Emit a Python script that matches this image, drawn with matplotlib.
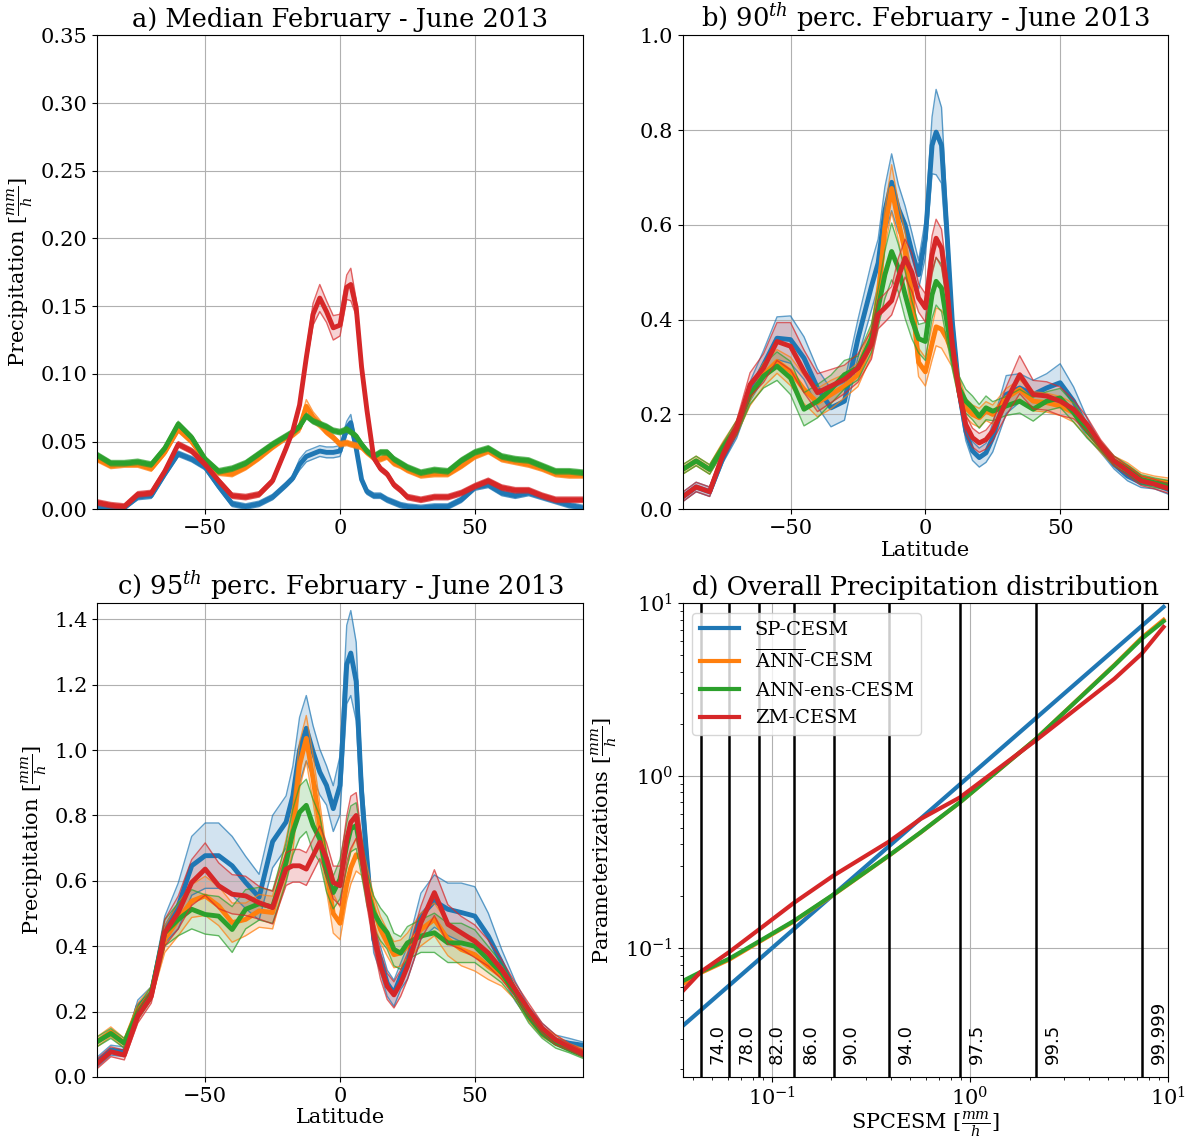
import matplotlib
matplotlib.use("Agg")
import matplotlib.pyplot as plt
import numpy as np

plt.rcParams["font.family"] = "DejaVu Serif"
plt.rcParams["mathtext.fontset"] = "dejavuserif"

# %% Data
lat = [-90, -85, -80, -75, -70, -65, -60, -55, -50, -45, -40, -35, -30, -25,
       -20, -17.5, -15, -12.5, -10, -7.5, -5, -2.5, 0, 2.5, 4, 6, 8, 10,
       12.5, 15, 17.5, 20, 22.5, 25, 30, 35, 40, 45, 50, 55, 60, 65, 70, 75,
       80, 85, 90]

models = ["SP-CESM", r"$\overline{\mathrm{ANN}}$-CESM", r"$\mathrm{ANN}$-ens-CESM", "ZM-CESM"]
colors = ["tab:blue", "tab:orange", "tab:green", "tab:red"]

# median precipitation [mm/h]
med_sp = [.002, .001, .001, .009, .010, .026, .041, .037, .031, .017, .004, .002, .004, .009,
          .018, .023, .033, .039, .041, .043, .042, .042, .043, .060, .064, .045, .022, .013,
          .010, .010, .007, .005, .003, .002, .001, .002, .002, .007, .016, .018, .012, .010,
          .012, .009, .006, .003, .001]
med_ann = [.037, .032, .033, .033, .030, .042, .059, .050, .036, .027, .026, .031, .038, .046,
           .053, .055, .060, .076, .068, .063, .057, .053, .048, .049, .048, .047, .046, .042,
           .038, .037, .039, .034, .032, .029, .025, .026, .026, .032, .039, .043, .037, .035,
           .033, .030, .026, .025, .025]
med_ens = [.040, .034, .034, .035, .033, .045, .063, .053, .037, .028, .030, .034, .041, .048,
           .054, .057, .061, .069, .065, .063, .061, .058, .057, .059, .057, .054, .048, .043,
           .039, .042, .042, .037, .034, .031, .027, .029, .028, .036, .042, .045, .039, .037,
           .036, .032, .028, .028, .027]
med_zm = [.005, .003, .002, .011, .012, .028, .048, .043, .033, .021, .010, .009, .011, .021,
          .045, .058, .077, .112, .144, .156, .146, .134, .136, .164, .166, .149, .105, .073,
          .038, .030, .026, .018, .014, .009, .007, .009, .009, .012, .017, .021, .016, .014,
          .014, .010, .007, .007, .007]
sprd_med_sp = [.002] * 16 + [.004, .004, .004, .004, .004, .004, .004, .005, .006, .004] + [.002] * 21
sprd_med_ann = [.002] * 16 + [.003, .005, .004, .003] + [.002] * 27
sprd_med_ens = [.002] * 47
sprd_med_zm = [.002] * 16 + [.003, .005, .008, .010, .008, .009, .008, .009, .012, .006, .004] + [.002] * 20

# 90th percentile [mm/h]
p90_sp = [.026, .047, .037, .109, .165, .249, .305, .361, .358, .319, .256, .214, .228, .360,
          .470, .520, .630, .690, .635, .600, .544, .495, .572, .768, .796, .768, .586, .396,
          .249, .165, .123, .109, .119, .151, .242, .256, .242, .256, .267, .228, .172, .130,
          .095, .070, .056, .053, .042]
p90_ann = [.084, .102, .084, .133, .172, .239, .284, .312, .291, .253, .225, .242, .260, .284,
           .354, .446, .593, .677, .607, .544, .450, .310, .290, .350, .385, .380, .360, .330,
           .256, .214, .200, .193, .207, .200, .235, .253, .228, .225, .218, .204, .168, .130,
           .102, .088, .067, .060, .056]
p90_ens = [.084, .102, .084, .130, .172, .242, .281, .302, .277, .211, .228, .253, .284, .298,
           .361, .425, .495, .544, .509, .453, .400, .360, .354, .453, .481, .467, .396, .326,
           .256, .228, .214, .196, .214, .207, .218, .228, .211, .228, .235, .204, .165, .133,
           .102, .084, .063, .056, .051]
p90_zm = [.026, .047, .037, .116, .172, .263, .298, .354, .344, .291, .246, .260, .274, .298,
          .347, .411, .425, .440, .490, .530, .500, .446, .425, .537, .572, .551, .467, .347,
          .249, .179, .151, .140, .147, .165, .228, .284, .242, .239, .228, .211, .179, .137,
          .102, .081, .060, .053, .044]
sprd_p90_sp = [.01, .01, .01, .01, .015, .02, .03, .045, .05, .045, .04, .04, .04, .04,
               .05, .05, .05, .06, .05, .04, .04, .03, .04, .06, .09, .08, .05, .03,
               .02, .02, .02, .02, .02, .03, .04, .03, .03, .03, .04, .03, .02, .01,
               .01, .01, .01, .01, .01]
sprd_p90_ann = [.01, .01, .01, .01, .015, .02, .025, .025, .03, .03, .03, .03, .025, .025,
                .03, .04, .04, .05, .04, .04, .04, .03, .03, .035, .04, .04, .04, .03,
                .025, .02, .02, .02, .02, .02, .02, .02, .02, .02, .02, .02, .015, .01,
                .01, .01, .01, .01, .01]
sprd_p90_ens = [.01, .01, .01, .01, .015, .02, .025, .03, .035, .035, .035, .03, .03, .025,
                .03, .04, .05, .06, .05, .05, .04, .03, .04, .05, .05, .05, .04, .03,
                .025, .025, .025, .025, .025, .02, .02, .025, .025, .02, .02, .02, .015, .01,
                .01, .01, .01, .01, .01]
sprd_p90_zm = [.01, .01, .01, .01, .015, .025, .03, .04, .05, .045, .04, .035, .03, .03,
               .03, .03, .03, .03, .04, .04, .04, .03, .03, .04, .04, .04, .03, .03,
               .02, .02, .02, .02, .02, .02, .03, .04, .03, .03, .03, .02, .015, .01,
               .01, .01, .01, .01, .01]

# 95th percentile [mm/h]
p95_sp = [.046, .082, .077, .215, .256, .451, .523, .646, .677, .677, .646, .595, .550, .720,
          .780, .860, 1.000, 1.067, .995, .933, .892, .821, .892, 1.262, 1.297, 1.210, .872, .667,
          .420, .360, .287, .256, .308, .349, .492, .538, .513, .503, .492, .431, .349, .262,
          .195, .144, .113, .103, .097]
p95_ann = [.108, .138, .103, .205, .256, .421, .482, .538, .554, .523, .472, .482, .508, .503,
           .667, .759, .954, 1.036, .913, .769, .630, .500, .470, .590, .640, .680, .667, .595,
           .513, .451, .410, .374, .379, .400, .451, .482, .421, .390, .374, .338, .308, .256,
           .190, .138, .113, .092, .077]
p95_ens = [.108, .133, .103, .195, .256, .441, .482, .513, .497, .492, .451, .513, .530, .520,
           .656, .749, .810, .831, .769, .728, .626, .564, .605, .708, .759, .769, .677, .574,
           .503, .467, .441, .390, .379, .410, .431, .441, .410, .410, .400, .359, .318, .256,
           .185, .133, .103, .084, .067]
p95_zm = [.041, .077, .067, .185, .246, .441, .503, .595, .636, .585, .559, .554, .533, .518,
          .636, .646, .646, .636, .677, .718, .667, .595, .585, .728, .779, .800, .687, .574,
          .440, .340, .277, .251, .287, .338, .472, .564, .467, .441, .415, .379, .328, .267,
          .205, .149, .113, .092, .072]
sprd_p95_sp = [.015, .015, .015, .02, .02, .04, .07, .09, .10, .10, .09, .08, .07, .08,
               .08, .09, .10, .10, .08, .07, .06, .07, .09, .12, .13, .12, .08, .05,
               .04, .04, .04, .04, .04, .05, .07, .08, .08, .09, .09, .07, .04, .03,
               .02, .02, .015, .015, .01]
sprd_p95_ann = [.015, .015, .015, .02, .02, .04, .05, .05, .06, .06, .06, .05, .05, .05,
                .06, .07, .07, .07, .07, .07, .06, .06, .05, .05, .05, .05, .05, .05,
                .04, .04, .04, .04, .04, .04, .05, .05, .05, .05, .05, .04, .03, .02,
                .02, .015, .015, .01, .01]
sprd_p95_ens = [.015, .015, .015, .02, .02, .04, .05, .06, .06, .06, .07, .06, .05, .05,
                .06, .07, .08, .08, .08, .07, .06, .05, .06, .07, .07, .07, .06, .05,
                .05, .05, .05, .05, .05, .05, .05, .06, .06, .06, .05, .04, .03, .02,
                .02, .015, .015, .01, .01]
sprd_p95_zm = [.015, .015, .015, .02, .02, .04, .05, .07, .08, .07, .06, .06, .05, .05,
               .05, .05, .05, .05, .05, .05, .05, .05, .06, .07, .08, .07, .05, .05,
               .04, .04, .04, .04, .04, .04, .05, .07, .06, .05, .05, .04, .03, .02,
               .02, .015, .015, .01, .01]

# overall distribution: SP-CESM quantiles vs parameterization quantiles [mm/h]
q_sp = [0.0355, 0.0437, 0.061, 0.0865, 0.129, 0.206, 0.389, 0.563, 0.89, 2.15, 5.36, 7.37, 9.5]
q_sp_model = [0.0355, 0.0437, 0.061, 0.0865, 0.129, 0.206, 0.389, 0.563, 0.89, 2.15, 5.36, 7.37, 9.5]
q_ann = [0.062, 0.072, 0.086, 0.109, 0.143, 0.205, 0.343, 0.468, 0.70, 1.63, 4.38, 6.30, 8.0]
q_ens = [0.0646, 0.0729, 0.0871, 0.110, 0.144, 0.206, 0.344, 0.469, 0.70, 1.63, 4.35, 6.21, 7.85]
q_zm = [0.0565, 0.0729, 0.0952, 0.129, 0.183, 0.265, 0.414, 0.561, 0.748, 1.60, 3.64, 5.09, 7.27]
perc_vals = [0.0437, 0.061, 0.0865, 0.129, 0.206, 0.389, 0.89, 2.15, 7.37]
perc_labels = ["74.0", "78.0", "82.0", "86.0", "90.0", "94.0", "97.5", "99.5", "99.999"]

unit = r"$[\frac{mm}{h}]$"


# %% Plot helpers
def plot_band_panel(ax, meds, sprds):
    x = np.array(lat)
    for med, sp, c in zip(meds, sprds, colors):
        med = np.array(med)
        sp = np.array(sp)
        lo = np.clip(med - sp, 0, None)
        hi = med + sp
        ax.fill_between(x, lo, hi, color=c, alpha=0.2, lw=0)
        ax.plot(x, lo, color=c, lw=1, alpha=0.7)
        ax.plot(x, hi, color=c, lw=1, alpha=0.7)
        ax.plot(x, med, color=c, lw=3.5)
    ax.set_xlim(-90, 90)
    ax.grid(True)
    ax.tick_params(labelsize=15)


fig, axes = plt.subplots(2, 2, figsize=(11.87, 11.42), dpi=100)
fig.subplots_adjust(left=0.082, right=0.984, bottom=0.057, top=0.969,
                    wspace=0.206, hspace=0.198)
ax_a, ax_b, ax_c, ax_d = axes.flat

plot_band_panel(ax_a, [med_sp, med_ann, med_ens, med_zm],
                [sprd_med_sp, sprd_med_ann, sprd_med_ens, sprd_med_zm])
ax_a.set_ylim(0, 0.35)
ax_a.set_yticks(np.arange(0, 0.351, 0.05))
ax_a.yaxis.set_major_formatter(matplotlib.ticker.FormatStrFormatter("%.2f"))
ax_a.set_title("a) Median February - June 2013", fontsize=18.5)
ax_a.set_ylabel("Precipitation " + unit, fontsize=15)

plot_band_panel(ax_b, [p90_sp, p90_ann, p90_ens, p90_zm],
                [sprd_p90_sp, sprd_p90_ann, sprd_p90_ens, sprd_p90_zm])
ax_b.set_ylim(0, 1.0)
ax_b.set_title(r"b) 90$^{th}$ perc. February - June 2013", fontsize=18.5)
ax_b.set_xlabel("Latitude", fontsize=15, labelpad=2)

plot_band_panel(ax_c, [p95_sp, p95_ann, p95_ens, p95_zm],
                [sprd_p95_sp, sprd_p95_ann, sprd_p95_ens, sprd_p95_zm])
ax_c.set_ylim(0, 1.45)
ax_c.set_title(r"c) 95$^{th}$ perc. February - June 2013", fontsize=18.5)
ax_c.set_xlabel("Latitude", fontsize=15, labelpad=2)
ax_c.set_ylabel("Precipitation " + unit, fontsize=15)

# %% Quantile-quantile panel
for qy, c, name in zip([q_sp_model, q_ann, q_ens, q_zm], colors, models):
    ax_d.plot(q_sp, qy, color=c, lw=3, label=name)
for xv, lab in zip(perc_vals, perc_labels):
    ax_d.axvline(xv, color="k", lw=1.8)
    ax_d.annotate(lab, (xv, 0.0215), xytext=(6, 0), textcoords="offset points",
                  rotation=90, ha="left", va="bottom", fontsize=13,
                  family="DejaVu Sans")
ax_d.set_xscale("log")
ax_d.set_yscale("log")
ax_d.set_xlim(0.0355, 10)
ax_d.set_ylim(0.018, 10)
ax_d.grid(True)
ax_d.tick_params(labelsize=15)
ax_d.legend(loc="upper left", fontsize=14)
ax_d.set_title("d) Overall Precipitation distribution", fontsize=18.5)
ax_d.set_xlabel("SPCESM " + unit, fontsize=15, labelpad=0)
ax_d.set_ylabel("Parameterizations " + unit, fontsize=15)

fig.savefig("out.png", dpi=100)
